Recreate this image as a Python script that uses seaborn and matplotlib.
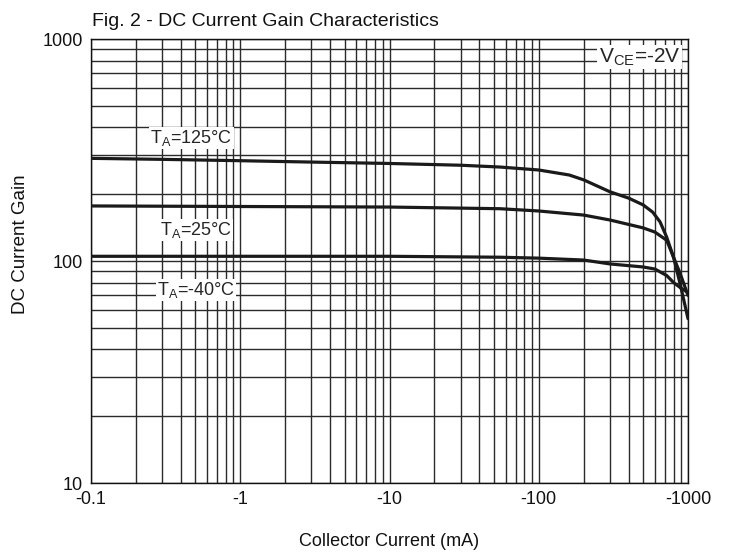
import numpy as np
import pandas as pd
import matplotlib
matplotlib.use("Agg")
import matplotlib.pyplot as plt
import seaborn as sns
from matplotlib.ticker import FixedLocator, NullFormatter

sns.set_theme(style="white")
plt.rcParams['font.family'] = ['Liberation Sans', 'DejaVu Sans']
plt.rcParams['mathtext.fontset'] = 'custom'
plt.rcParams['mathtext.rm'] = 'Liberation Sans'

# Collector current magnitude (mA) and DC current gain for each temperature
current_125 = [0.1, 0.3, 1, 3, 10, 30, 55, 100, 160, 200, 300, 400, 500, 580, 650, 720, 800, 885, 1000]
gain_125 = [290, 287, 283, 279, 275, 270, 265, 257, 244, 232, 205, 192, 179, 166, 150, 128, 104, 79, 55]

current_25 = [0.1, 1, 10, 55, 100, 200, 300, 500, 600, 720, 800, 885, 1000]
gain_25 = [177, 176, 175, 172, 168, 161, 153, 141, 135, 124, 104, 88, 70]

current_m40 = [0.1, 1, 10, 55, 100, 200, 300, 500, 600, 720, 800, 885, 1000]
gain_m40 = [105, 105, 105, 104, 103, 101, 97, 94, 92, 86, 80, 76, 72]

x_tick_values = [0.1, 1, 10, 100, 1000]
x_tick_labels = ["-0.1", "-1", "-10", "-100", "-1000"]
y_tick_values = [10, 100, 1000]
y_tick_labels = ["10", "100", "1000"]

df = pd.concat([
    pd.DataFrame({"current": current_125, "gain": gain_125, "temp": "125"}),
    pd.DataFrame({"current": current_25, "gain": gain_25, "temp": "25"}),
    pd.DataFrame({"current": current_m40, "gain": gain_m40, "temp": "-40"}),
])

fig = plt.figure(figsize=(7.3, 5.58), dpi=100)
ax = fig.add_axes([91/730, 1-483/558, (688-91)/730, (483-39)/558])

ax.set_xscale('log')
ax.set_yscale('log')
ax.set_xlim(0.1, 1000)
ax.set_ylim(10, 1000)

# grid at every 1..9 decade step
xgrid = [m * 10.0**e for e in range(-1, 3) for m in range(1, 10)] + [1000]
ygrid = [m * 10.0**e for e in range(1, 3) for m in range(1, 10)] + [1000]
for xv in xgrid:
    ax.axvline(xv, color='#2a2a2a', lw=1.0, zorder=1)
for yv in ygrid:
    ax.axhline(yv, color='#2a2a2a', lw=1.0, zorder=1)

sns.lineplot(data=df, x="current", y="gain", hue="temp",
             palette={"125": "#1a1a1a", "25": "#1a1a1a", "-40": "#1a1a1a"},
             estimator=None, sort=False, legend=False, lw=2.3, ax=ax, zorder=3)

ax.xaxis.set_major_locator(FixedLocator(x_tick_values))
ax.set_xticklabels(x_tick_labels)
ax.yaxis.set_major_locator(FixedLocator(y_tick_values))
ax.set_yticklabels(y_tick_labels)
ax.xaxis.set_minor_formatter(NullFormatter())
ax.yaxis.set_minor_formatter(NullFormatter())
ax.tick_params(axis='both', which='both', length=0, labelsize=13, colors='#111111')
ax.tick_params(axis='x', pad=6)
ax.tick_params(axis='y', pad=6)

for s in ax.spines.values():
    s.set_color('#111111')
    s.set_linewidth(1.0)

ax.set_xlabel("Collector Current (mA)", fontsize=13, color='#111111', va='center')
ax.xaxis.set_label_coords(0.5, -(541-483)/444)
ax.set_ylabel("DC Current Gain", fontsize=13.5, color='#111111', va='center')
ax.yaxis.set_label_coords(-(91-21)/597, (483-244)/444)

fig.text(92/730, 1-26/558, "Fig. 2 - DC Current Gain Characteristics",
         fontsize=14, ha='left', va='baseline', color='#111111')

bbox = dict(facecolor='white', edgecolor='none', pad=1.0)
ax.text(0.468, 358, r"T$_\mathregular{A}$=125°C", fontsize=13, ha='center', va='center', bbox=bbox, zorder=4)
ax.text(0.505, 138, r"T$_\mathregular{A}$=25°C", fontsize=13, ha='center', va='center', bbox=bbox, zorder=4)
ax.text(0.505, 74, r"T$_\mathregular{A}$=-40°C", fontsize=13, ha='center', va='center', bbox=bbox, zorder=4)
ax.text(890, 830, r"V$_\mathregular{CE}$=-2V", fontsize=15, ha='right', va='center', bbox=bbox, zorder=4)

fig.savefig("out.png", dpi=100)
